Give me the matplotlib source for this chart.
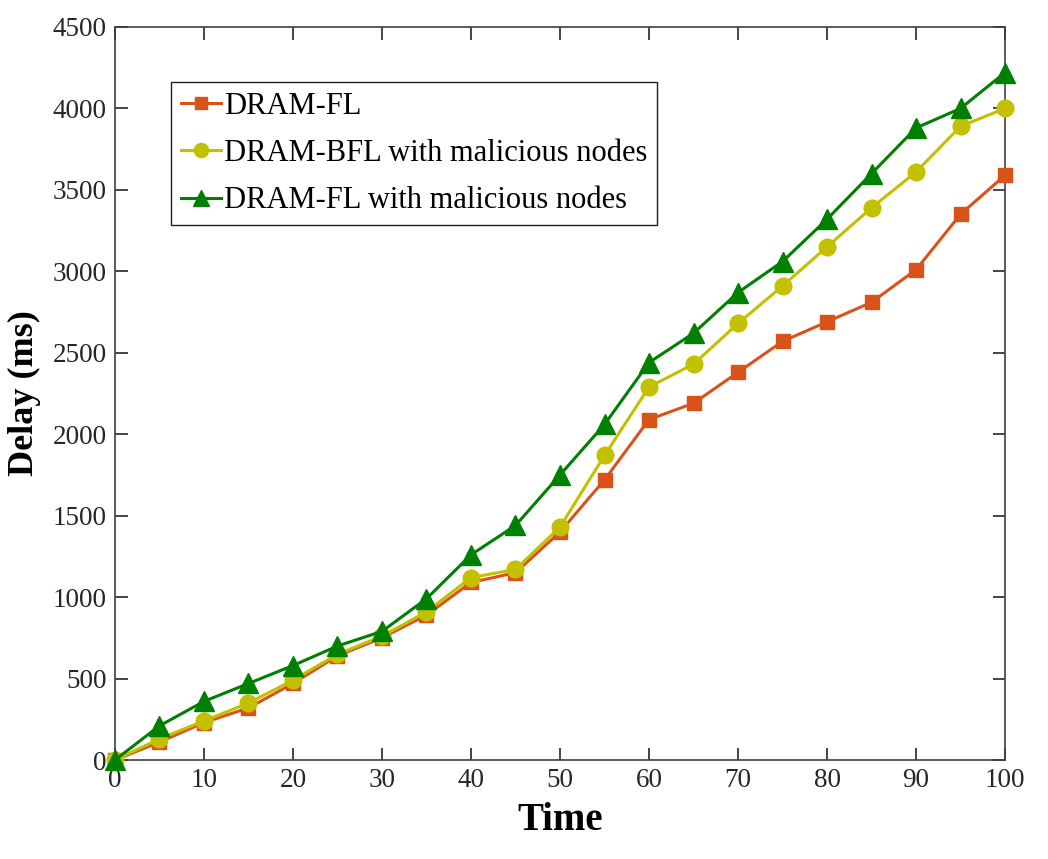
import matplotlib.pyplot as plt
import numpy as np

# data
time = np.arange(0, 101, 5)
dram_fl = [0, 110, 230, 320, 470, 640, 750, 890, 1090, 1150, 1400,
           1720, 2090, 2190, 2380, 2570, 2690, 2810, 3010, 3350, 3590]
dram_bfl_mal = [0, 130, 240, 350, 490, 650, 760, 910, 1120, 1170, 1430,
                1870, 2290, 2430, 2680, 2910, 3150, 3390, 3610, 3890, 4000]
dram_fl_mal = [0, 210, 360, 470, 580, 700, 790, 990, 1260, 1440, 1750,
               2060, 2440, 2620, 2870, 3060, 3320, 3600, 3880, 4000, 4220]

plt.rcParams['font.family'] = ['Liberation Serif', 'DejaVu Serif']

fig = plt.figure(figsize=(10.48, 8.59), dpi=100)
ax = fig.add_axes([0.1097, 0.1152, 0.8493, 0.8534])

ax.plot(time, dram_fl, color='#D95319', lw=2.2, marker='s', ms=10.5,
        label='DRAM-FL', clip_on=False, zorder=3)
ax.plot(time, dram_bfl_mal, color='#C3C000', lw=2.2, marker='o', ms=12,
        label='DRAM-BFL with malicious nodes', clip_on=False, zorder=4)
ax.plot(time, dram_fl_mal, color='#008000', lw=2.2, marker='^', ms=14,
        label='DRAM-FL with malicious nodes', clip_on=False, zorder=5)

ax.set_xlim(0, 100)
ax.set_ylim(0, 4500)
ax.set_xticks(np.arange(0, 101, 10))
ax.set_yticks(np.arange(0, 4501, 500))
ax.tick_params(direction='in', length=9, width=1.2, top=True, right=True,
               labelsize=19.5, colors='#262626', pad=6)
for s in ax.spines.values():
    s.set_color('#404040')
    s.set_linewidth(1.2)

ax.set_xlabel('Time', fontsize=28, fontweight='bold', labelpad=6)
ax.set_ylabel('Delay (ms)', fontsize=26, fontweight='bold', labelpad=8)

leg = ax.legend(loc='upper left', bbox_to_anchor=(0.063, 0.925), borderaxespad=0,
                fontsize=22, fancybox=False, edgecolor='#202020', framealpha=1,
                handlelength=1.3, handletextpad=0.1, labelspacing=0.6,
                borderpad=0.32, markerscale=0.85)
leg.get_frame().set_linewidth(1.0)

fig.savefig('out.png', dpi=100)
